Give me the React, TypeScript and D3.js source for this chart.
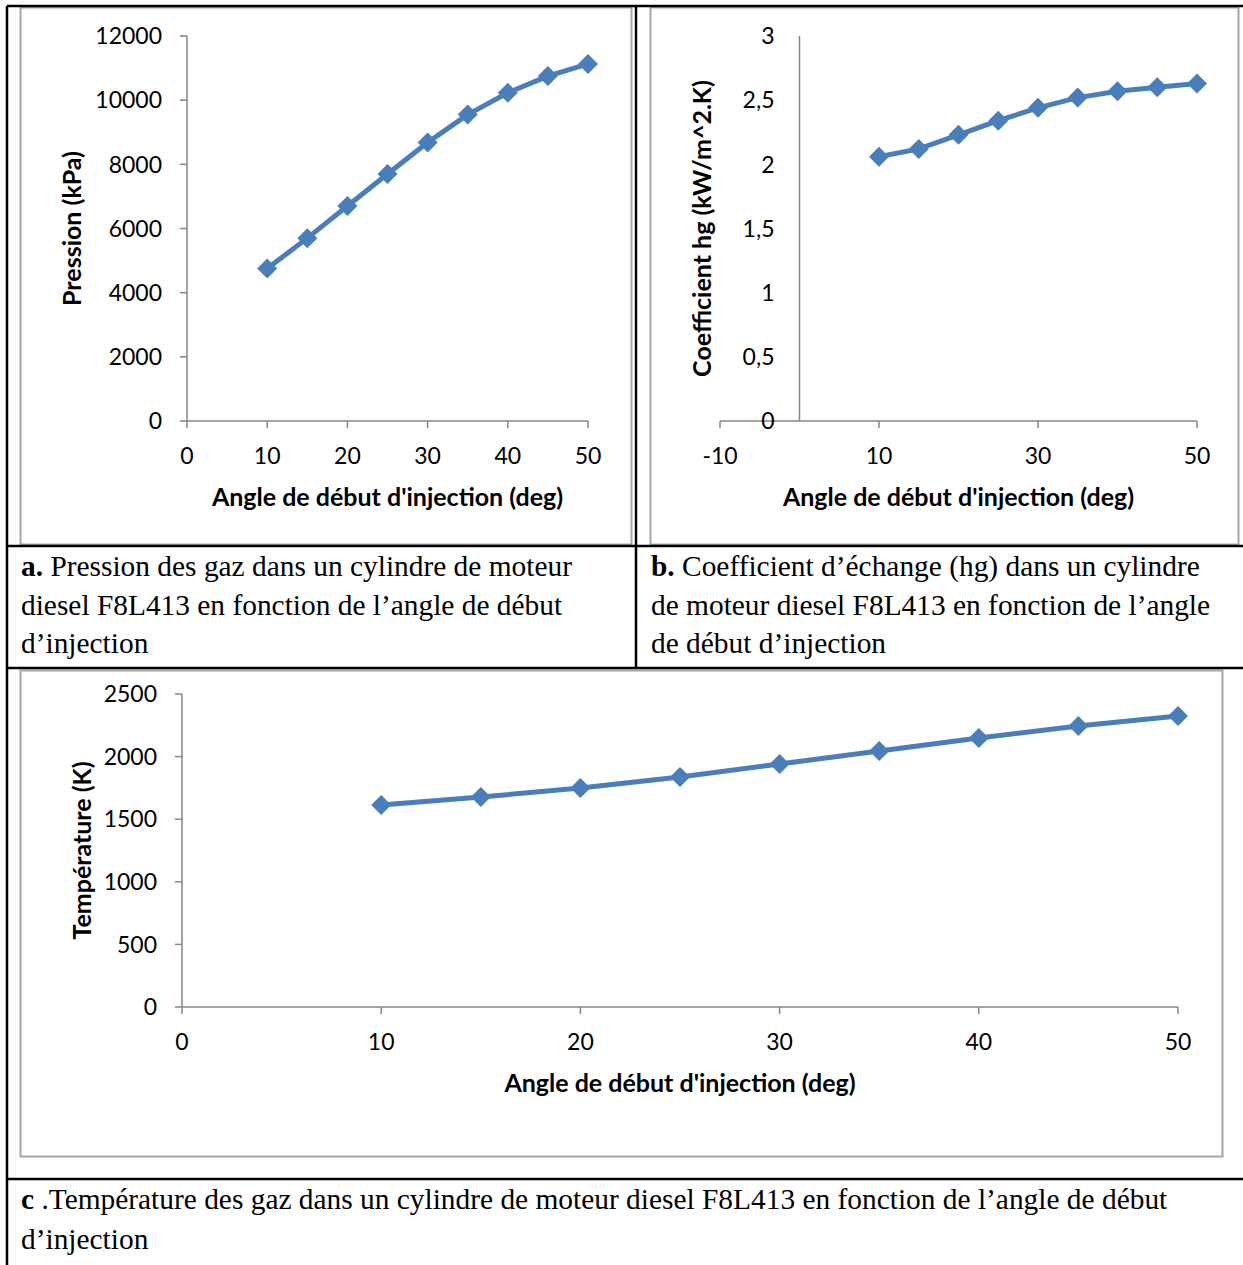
import React from "react";
import * as d3 from "d3";

// Injection start angle (deg)
const angles = [10, 15, 20, 25, 30, 35, 40, 45, 50];
// Gas pressure (kPa)
const pression = [4750, 5700, 6700, 7700, 8680, 9550, 10230, 10750, 11130];
// Heat exchange coefficient hg (kW/m^2.K)
const coefHg = [2.06, 2.12, 2.23, 2.34, 2.44, 2.52, 2.57, 2.6, 2.63];
// Gas temperature (K)
const temperature = [1613, 1677, 1749, 1837, 1941, 2045, 2149, 2244, 2324];

const ticksA_x = [0, 10, 20, 30, 40, 50];
const ticksA_y = [0, 2000, 4000, 6000, 8000, 10000, 12000];
const ticksB_x = [-10, 10, 30, 50];
const ticksB_y = [0, 0.5, 1, 1.5, 2, 2.5, 3];
const ticksC_x = [0, 10, 20, 30, 40, 50];
const ticksC_y = [0, 500, 1000, 1500, 2000, 2500];

const xTitle = "Angle de début d'injection (deg)";

const LINE = "#4A7EBB";
const AXIS = "#868686";
const SANS = "Lato, 'Open Sans', sans-serif";
const SERIF = "'Liberation Serif', 'Times New Roman', serif";

type ChartProps = {
  xs: number[];
  ys: number[];
  xDomain: [number, number];
  yDomain: [number, number];
  xTicks: number[];
  yTicks: number[];
  x0: number; x1: number; y0: number; y1: number;
  yTitle: string;
  yTitleX: number;
  xTitleY: number;
  fmt?: (v: number) => string;
  yAxisAt?: number;
  yTickMarks?: boolean;
};

// square diamond marker (rotated square), half-diagonal r
const diamond = (r: number) => `M0,${-r}L${r},0L0,${r}L${-r},0Z`;

function LineChart(p: ChartProps) {
  const x = d3.scaleLinear().domain(p.xDomain).range([p.x0, p.x1]);
  const y = d3.scaleLinear().domain(p.yDomain).range([p.y0, p.y1]);
  const axX = p.yAxisAt !== undefined ? x(p.yAxisAt) : p.x0;
  const fmt = p.fmt || ((v: number) => String(v));
  const pts = p.xs.map((d, i) => [x(d), y(p.ys[i])] as [number, number]);
  const line = d3.line()(pts) || "";
  const sym = diamond(10);
  const midY = (p.y0 + p.y1) / 2;
  return (
    <g>
      {/* x axis */}
      <line x1={p.x0} x2={p.x1} y1={p.y0} y2={p.y0} stroke={AXIS} strokeWidth={1.5} />
      {p.xTicks.map((t) => (
        <g key={"xt" + t}>
          <line x1={x(t)} x2={x(t)} y1={p.y0} y2={p.y0 + 7} stroke={AXIS} strokeWidth={1.5} />
          <text x={x(t)} y={p.y0 + 35} dy="0.36em" textAnchor="middle" fontSize={23} fontFamily={SANS} fill="#000">
            {fmt(t)}
          </text>
        </g>
      ))}
      {/* y axis */}
      <line x1={axX} x2={axX} y1={p.y0} y2={p.y1} stroke={AXIS} strokeWidth={1.5} />
      {p.yTicks.map((t) => (
        <g key={"yt" + t}>
          {p.yTickMarks !== false && (
            <line x1={axX - 7} x2={axX} y1={y(t)} y2={y(t)} stroke={AXIS} strokeWidth={1.5} />
          )}
          <text x={axX - 25} y={y(t)} dy="0.36em" textAnchor="end" fontSize={23} fontFamily={SANS} fill="#000">
            {fmt(t)}
          </text>
        </g>
      ))}
      <text
        transform={`translate(${p.yTitleX},${midY}) rotate(-90)`}
        textAnchor="middle"
        dy="0.36em"
        fontSize={25}
        fontWeight="bold"
        fontFamily={SANS}
      >
        {p.yTitle}
      </text>
      <text x={(p.x0 + p.x1) / 2} y={p.xTitleY} dy="0.36em" textAnchor="middle" fontSize={25} fontWeight="bold" fontFamily={SANS}>
        {xTitle}
      </text>
      <path d={line} fill="none" stroke={LINE} strokeWidth={5} strokeLinejoin="round" />
      {pts.map((pt, i) => (
        <path key={i} d={sym} transform={`translate(${pt[0]},${pt[1]})`} fill={LINE} />
      ))}
    </g>
  );
}

const commaFmt = (v: number) => String(v).replace(".", ",");

export default function App() {
  const W = 1243;
  const H = 1265;
  return (
    <svg width={W} height={H} style={{ position: "absolute", left: 0, top: 0, background: "#fff" }}>
      <rect width={W} height={H} fill="#fff" />
      {/* chart frames */}
      <rect x={20.5} y={7.5} width={611} height={537} fill="none" stroke="#A6A6A6" strokeWidth={2} />
      <rect x={650.5} y={7.5} width={588} height={537} fill="none" stroke="#A6A6A6" strokeWidth={2} />
      <rect x={20.5} y={670.5} width={1202} height={486} fill="none" stroke="#A6A6A6" strokeWidth={2} />

      {/* table rules */}
      <g stroke="#000" strokeWidth={2.5} fill="none">
        <line x1={7} x2={1243} y1={6} y2={6} />
        <line x1={7} x2={7} y1={6} y2={1265} />
        <line x1={636} x2={636} y1={6} y2={668} />
        <line x1={7} x2={1243} y1={546} y2={546} />
        <line x1={7} x2={1243} y1={668} y2={668} />
        <line x1={7} x2={1243} y1={1179} y2={1179} />
      </g>

      <LineChart
        xs={angles} ys={pression}
        xDomain={[0, 50]} yDomain={[0, 12000]}
        xTicks={ticksA_x} yTicks={ticksA_y}
        x0={187} x1={588} y0={421} y1={36}
        yTitle="Pression (kPa)" yTitleX={72} xTitleY={497}
      />
      <LineChart
        xs={angles} ys={coefHg}
        xDomain={[-10, 50]} yDomain={[0, 3]}
        xTicks={ticksB_x} yTicks={ticksB_y}
        x0={720} x1={1197} y0={421} y1={36}
        yAxisAt={0} yTickMarks={false}
        fmt={commaFmt}
        yTitle="Coefficient hg (kW/m^2.K)" yTitleX={702} xTitleY={497}
      />
      <LineChart
        xs={angles} ys={temperature}
        xDomain={[0, 50]} yDomain={[0, 2500]}
        xTicks={ticksC_x} yTicks={ticksC_y}
        x0={182} x1={1178} y0={1007} y1={694}
        yTitle="Température (K)" yTitleX={82} xTitleY={1083}
      />

      {/* captions */}
      <g fontFamily={SERIF} fontSize={29.4} fill="#000">
        <text x={21} y={576}><tspan fontWeight="bold">a.</tspan> Pression des gaz dans un cylindre de moteur</text>
        <text x={21} y={615}>diesel F8L413 en fonction de l’angle de début</text>
        <text x={21} y={653}>d’injection</text>
        <text x={651} y={576}><tspan fontWeight="bold">b.</tspan> Coefficient d’échange (hg) dans un cylindre</text>
        <text x={651} y={615}>de moteur diesel F8L413 en fonction de l’angle</text>
        <text x={651} y={653}>de début d’injection</text>
        <text x={21} y={1209}><tspan fontWeight="bold">c</tspan> .Température des gaz dans un cylindre de moteur diesel F8L413 en fonction de l’angle de début</text>
        <text x={21} y={1249}>d’injection</text>
      </g>
    </svg>
  );
}
